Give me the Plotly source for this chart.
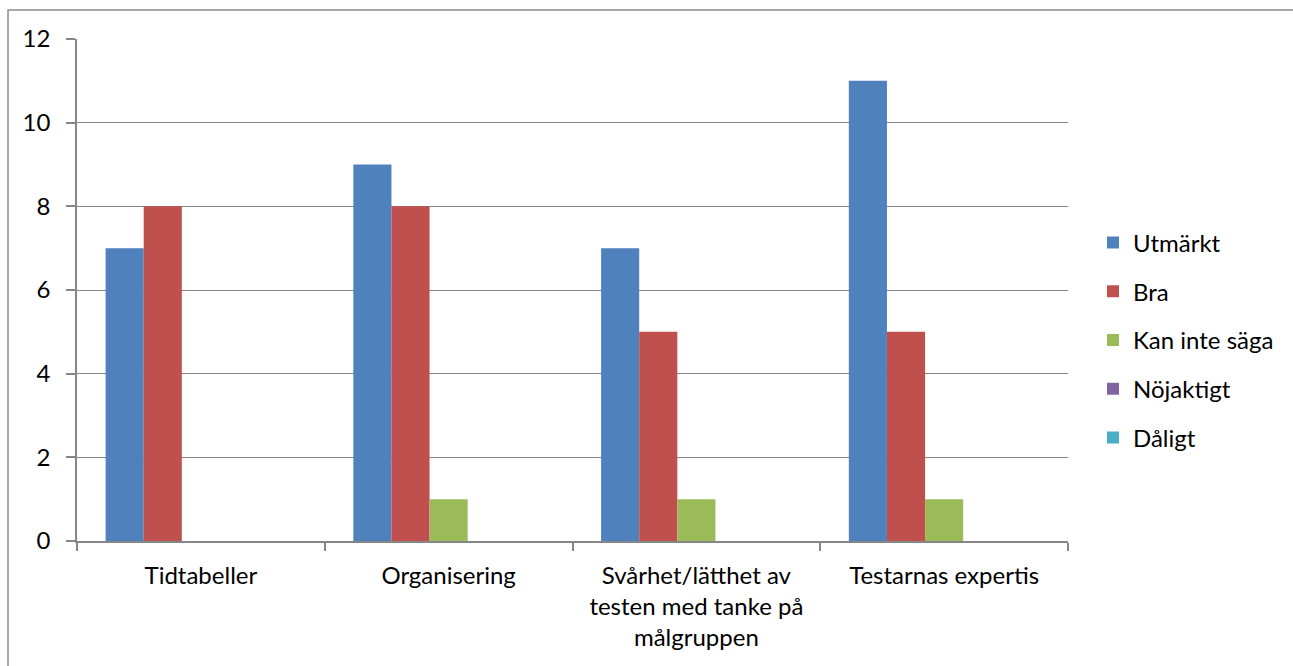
import plotly.graph_objects as go

categories = [
    "Tidtabeller",
    "Organisering",
    "Svårhet/lätthet av<br>testen med tanke på<br>målgruppen",
    "Testarnas expertis",
]
series_names = ["Utmärkt", "Bra", "Kan inte säga", "Nöjaktigt", "Dåligt"]
utmarkt = [7, 9, 7, 11]
bra = [8, 8, 5, 5]
kan_inte_saga = [0, 1, 1, 1]
nojaktigt = [0, 0, 0, 0]
daligt = [0, 0, 0, 0]
series_values = [utmarkt, bra, kan_inte_saga, nojaktigt, daligt]
colors = ["#4F81BD", "#C0504D", "#9BBB59", "#8064A2", "#4BACC6"]
y_ticks = [0, 2, 4, 6, 8, 10, 12]

FONT = "Lato, 'Open Sans', sans-serif"
FS = 24
GRID = "#868686"

fig = go.Figure()
for name, vals, col in zip(series_names, series_values, colors):
    fig.add_trace(go.Bar(
        x=categories, y=vals, name=name,
        marker=dict(color=col, line=dict(width=0)),
        legendgroup=name,
    ))

W, H = 1293, 666
L, R, T, B = 77, 1068, 39, 541
pw, ph = R - L, B - T

fig.update_layout(
    width=W, height=H,
    margin=dict(l=L, r=W - R, t=T, b=H - B, pad=0),
    paper_bgcolor="white", plot_bgcolor="white",
    font=dict(family=FONT, size=FS, color="#000000"),
    barmode="group",
    bargap=1.5 / 6.5,
    bargroupgap=0,
    showlegend=True,
    legend=dict(
        x=(1093 - L) / pw, xanchor="left",
        y=(B - 340) / ph, yanchor="middle",
        traceorder="grouped",
        tracegroupgap=14.5,
        font=dict(family=FONT, size=FS),
        bgcolor="rgba(0,0,0,0)",
    ),
    xaxis=dict(
        type="category",
        showline=True, linecolor=GRID, linewidth=1.5,
        ticks="outside", tickson="boundaries", ticklen=8, tickcolor=GRID, tickwidth=1.5,
        showgrid=False,
        tickfont=dict(family=FONT, size=FS),
        ticklabelstandoff=12,
    ),
    yaxis=dict(
        range=[0, 12],
        tickvals=y_ticks,
        ticktext=[str(v) for v in y_ticks],
        showline=True, linecolor=GRID, linewidth=1.5,
        ticks="outside", ticklen=9, tickcolor=GRID, tickwidth=1.5,
        showgrid=True, gridcolor=GRID, gridwidth=1,
        zeroline=False,
        tickfont=dict(family=FONT, size=FS),
        ticklabelstandoff=11,
    ),
)

# Chart frame (left and top edges visible, the rest extends past the page)
fig.add_shape(
    type="rect", xref="paper", yref="paper",
    x0=(8 - L) / pw, x1=(W + 20 - L) / pw,
    y0=-(H + 20 - B) / ph, y1=1 + (T - 10) / ph,
    line=dict(color="#8C8C8C", width=1.5),
    fillcolor="rgba(0,0,0,0)",
    layer="below",
)

fig.write_html("out.html")
